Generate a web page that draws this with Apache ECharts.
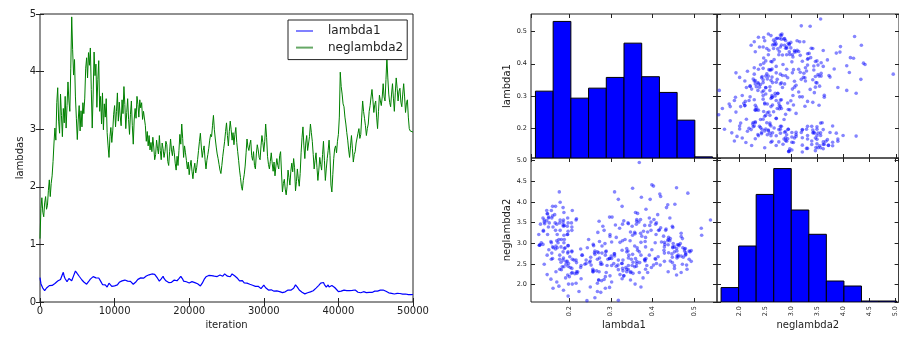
<!DOCTYPE html>
<html>
<head>
<meta charset="utf-8">
<script src="https://cdn.jsdelivr.net/npm/echarts@6/dist/echarts.min.js"></script>
<style>
  html, body { margin: 0; padding: 0; background: #fff; }
  #chart { width: 899px; height: 339px; }
</style>
</head>
<body>
<div id="chart"></div>
<script>
// MCMC trace of the two parameters, one sample every SAMPLE_STEP iterations
const SAMPLE_STEP = 125;

const lambda1 = [
  0.423, 0.318, 0.276, 0.241, 0.212, 0.198, 0.224, 0.243,
  0.262, 0.251, 0.284, 0.268, 0.302, 0.287, 0.313, 0.279,
  0.322, 0.341, 0.328, 0.364, 0.383, 0.357, 0.392, 0.371,
  0.478, 0.516, 0.442, 0.403, 0.372, 0.351, 0.384, 0.409,
  0.431, 0.394, 0.368, 0.402, 0.453, 0.484, 0.538, 0.517,
  0.492, 0.468, 0.447, 0.429, 0.416, 0.382, 0.361, 0.347,
  0.331, 0.318, 0.309, 0.327, 0.352, 0.373, 0.398, 0.412,
  0.428, 0.441, 0.457, 0.436, 0.419, 0.448, 0.433, 0.417,
  0.396, 0.362, 0.334, 0.303, 0.286, 0.311, 0.298, 0.272,
  0.259, 0.287, 0.326, 0.338, 0.302, 0.271, 0.258, 0.269,
  0.281, 0.273, 0.284, 0.297, 0.313, 0.342, 0.358, 0.346,
  0.367, 0.388, 0.359, 0.381, 0.406, 0.378, 0.362, 0.374,
  0.383, 0.357, 0.341, 0.328, 0.309, 0.298, 0.321, 0.352,
  0.371, 0.393, 0.408, 0.396, 0.419, 0.407, 0.426, 0.414,
  0.432, 0.441, 0.452, 0.437, 0.461, 0.472, 0.458, 0.479,
  0.487, 0.476, 0.468, 0.481, 0.492, 0.458, 0.413, 0.382,
  0.363, 0.384, 0.402, 0.428, 0.447, 0.409, 0.381, 0.368,
  0.352, 0.361, 0.338, 0.349, 0.364, 0.342, 0.353, 0.372,
  0.381, 0.397, 0.388, 0.369, 0.383, 0.406, 0.428, 0.446,
  0.437, 0.398, 0.362, 0.343, 0.329, 0.351, 0.338, 0.357,
  0.331, 0.318, 0.342, 0.353, 0.327, 0.348, 0.336, 0.322,
  0.329, 0.317, 0.302, 0.288, 0.279, 0.301, 0.327, 0.359,
  0.392, 0.418, 0.437, 0.452, 0.428, 0.461, 0.476, 0.448,
  0.457, 0.436, 0.468, 0.449, 0.427, 0.458, 0.442, 0.471,
  0.452, 0.468, 0.457, 0.482, 0.447, 0.473, 0.489, 0.462,
  0.471, 0.448, 0.478, 0.459, 0.438, 0.466, 0.487, 0.463,
  0.479, 0.452, 0.421, 0.438, 0.407, 0.386, 0.368, 0.377,
  0.358, 0.372, 0.347, 0.331, 0.342, 0.318, 0.327, 0.309,
  0.297, 0.308, 0.289, 0.276, 0.291, 0.268, 0.257, 0.272,
  0.251, 0.262, 0.273, 0.241, 0.253, 0.232, 0.244, 0.261,
  0.293, 0.268, 0.247, 0.228, 0.218, 0.207, 0.221, 0.198,
  0.212, 0.203, 0.219, 0.188, 0.201, 0.182, 0.193, 0.178,
  0.169, 0.181, 0.158, 0.148, 0.162, 0.171, 0.157, 0.176,
  0.187, 0.199, 0.208, 0.192, 0.217, 0.206, 0.228, 0.214,
  0.238, 0.266, 0.297, 0.278, 0.257, 0.229, 0.208, 0.197,
  0.186, 0.168, 0.157, 0.148, 0.141, 0.159, 0.172, 0.161,
  0.178, 0.189, 0.176, 0.198, 0.207, 0.196, 0.218, 0.229,
  0.241, 0.258, 0.271, 0.289, 0.307, 0.328, 0.347, 0.362,
  0.338, 0.302, 0.271, 0.258, 0.279, 0.297, 0.262, 0.249,
  0.268, 0.287, 0.298, 0.276, 0.252, 0.231, 0.217, 0.198,
  0.181, 0.172, 0.179, 0.188, 0.197, 0.186, 0.207, 0.196,
  0.189, 0.198, 0.207, 0.187, 0.199, 0.178, 0.191, 0.202,
  0.184, 0.193, 0.208, 0.197, 0.186, 0.169, 0.158, 0.152,
  0.161, 0.149, 0.167, 0.179, 0.188, 0.171, 0.163, 0.174,
  0.182, 0.168, 0.187, 0.179, 0.166, 0.186, 0.198, 0.189,
  0.178, 0.197, 0.188, 0.207, 0.218, 0.206, 0.196, 0.187,
  0.208, 0.217, 0.198, 0.186, 0.177, 0.168, 0.159, 0.171,
  0.162, 0.151, 0.158, 0.147, 0.139, 0.152, 0.161, 0.149,
  0.153, 0.161, 0.148, 0.142, 0.151, 0.138, 0.147, 0.141,
  0.139, 0.132, 0.141, 0.128, 0.134, 0.138, 0.129, 0.131,
  0.130
];

const neglambda2 = [
  1.10, 1.62, 1.81, 1.56, 1.48, 1.72, 1.83, 1.61,
  1.68, 1.94, 2.12, 1.83, 2.06, 2.19, 2.44, 2.76,
  3.02, 2.81, 3.46, 3.72, 3.14, 2.93, 3.61, 3.24,
  2.87, 3.36, 3.11, 3.57, 3.02, 3.41, 3.82, 3.49,
  3.31, 4.06, 4.95, 4.38, 3.94, 4.21, 3.56, 3.19,
  2.82, 3.16, 3.41, 2.97, 3.32, 3.04, 3.46, 3.27,
  3.54, 4.06, 4.24, 3.89, 4.33, 4.11, 4.41, 3.69,
  3.02, 3.61, 4.34, 3.93, 4.13, 3.38, 3.86, 4.19,
  3.31, 3.57, 3.09, 3.63, 2.99, 3.44, 3.21, 3.53,
  2.94, 2.71, 2.51, 2.87, 3.03, 2.77, 2.97, 3.26,
  3.41, 3.04, 3.31, 3.63, 3.14, 3.47, 3.23, 3.06,
  3.51, 3.27, 3.74, 3.43, 3.01, 3.29, 3.53, 3.17,
  2.91, 3.26, 3.49, 3.06, 2.74, 3.16, 3.36, 3.19,
  3.57, 3.43, 3.21, 3.51, 3.37, 3.46, 3.17, 3.31,
  3.34, 3.06, 2.79, 2.96, 2.71, 2.89, 2.64, 2.77,
  2.61, 2.86, 2.69, 2.47, 2.56, 2.81, 2.67, 2.57,
  2.89, 2.63, 2.47, 2.76, 2.66, 2.51, 2.61, 2.79,
  2.73, 2.44, 2.37, 2.61, 2.83, 2.64, 2.54, 2.71,
  2.59, 2.41, 2.29, 2.53, 2.37, 2.63, 2.91, 2.74,
  3.09, 2.84, 2.51, 2.71, 2.59, 2.46, 2.31, 2.43,
  2.21, 2.36, 2.46, 2.27, 2.14, 2.31, 2.41, 2.24,
  2.33, 2.47, 2.63, 2.79, 2.93, 2.69, 2.51, 2.63,
  2.71, 2.47, 2.31, 2.46, 2.56, 2.67, 2.81, 2.91,
  2.87, 3.06, 3.24, 2.99, 2.83, 2.69, 2.57, 2.49,
  2.39, 2.29, 2.23, 2.37, 2.53, 2.66, 2.79, 2.96,
  3.11, 2.89, 2.71, 2.96, 3.14, 2.99, 2.81, 2.94,
  2.73, 2.91, 3.03, 2.77, 2.61, 2.46, 2.29, 2.16,
  2.01, 1.94, 2.11, 2.21, 2.36, 2.59, 2.83, 2.69,
  2.63, 2.74, 2.81, 2.54, 2.46, 2.61, 2.37, 2.31,
  2.57, 2.73, 2.64, 2.51, 2.47, 2.71, 2.89, 2.77,
  2.61, 2.79, 3.09, 2.86, 2.53, 2.39, 2.31, 2.44,
  2.59, 2.41, 2.27, 2.43, 2.19, 2.36, 2.49, 2.37,
  2.31, 2.54, 2.61, 2.24, 1.91, 2.06, 2.13, 1.96,
  1.86, 2.01, 2.29, 2.16, 2.03, 2.27, 2.41, 2.26,
  2.49, 2.33, 1.93, 2.09, 2.31, 2.14, 2.01, 2.23,
  2.59, 2.86, 3.04, 2.71, 2.49, 2.76, 2.89, 2.63,
  2.61, 2.87, 3.09, 2.94, 2.79, 2.56, 2.31, 2.46,
  2.59, 2.34, 2.11, 2.29, 2.51, 2.39, 2.29, 2.56,
  2.79, 2.46, 2.11, 2.31, 2.49, 2.63, 2.81, 2.54,
  2.03, 1.91, 2.21, 2.49, 2.66, 2.71, 2.59, 2.79,
  2.91, 3.21, 3.99, 3.74, 3.61, 3.44, 3.39, 3.21,
  3.09, 2.94, 2.81, 2.64, 2.51, 2.71, 2.89, 2.67,
  2.43, 2.56, 2.61, 2.76, 2.79, 2.93, 3.01, 2.84,
  2.91, 3.21, 3.49, 3.31, 3.19, 3.06, 2.89, 3.01,
  3.09, 3.31, 3.41, 3.56, 3.69, 3.51, 3.29, 3.43,
  3.49, 3.21, 3.01, 3.31, 3.59, 3.49, 3.41, 3.56,
  3.79, 3.56, 3.49, 3.86, 4.24, 3.89, 3.61, 3.46,
  3.39, 3.61, 3.79, 3.54, 3.31, 3.63, 3.89, 3.71,
  3.49, 3.66, 3.71, 3.47, 3.39, 3.61, 3.79, 3.56,
  3.29, 3.46, 3.51, 3.21, 3.01, 2.97, 2.95, 2.96,
  2.95
];

// Histogram bins (edges) and counts for the diagonal of the scatter matrix
const lambda1BinEdges = [0.120, 0.1623, 0.2046, 0.2469, 0.2892, 0.3315, 0.3738, 0.4161, 0.4584, 0.5007, 0.543];
const lambda1Counts   = [468, 956, 419, 489, 564, 804, 569, 459, 265, 8];
const neglambda2BinEdges = [1.655, 1.992, 2.328, 2.665, 3.001, 3.338, 3.674, 4.011, 4.347, 4.684, 5.020];
const neglambda2Counts   = [101, 392, 753, 934, 644, 474, 147, 112, 7, 7];

// Axis ranges
const ITER_MAX = 50000;
const LAMBDAS_MAX = 5;
const LAM_RANGE = [0.1094, 0.5536];
const NEG_RANGE = [1.577, 5.06];
const COUNT_AXIS_MAX = 1008;

const FONT = 'DejaVu Sans';
const INK = '#222';

const iterations = lambda1.map((_, i) => i * SAMPLE_STEP);
const lambda1Trace = iterations.map((it, i) => [it, lambda1[i]]);
const neglambda2Trace = iterations.map((it, i) => [it, neglambda2[i]]);
const pairsNegLam = lambda1.map((v, i) => [neglambda2[i], v]);
const pairsLamNeg = lambda1.map((v, i) => [v, neglambda2[i]]);

const histData = (edges, counts) => counts.map((c, i) => [edges[i], edges[i + 1], c]);

const tick = { show: true, inside: true, length: 4, lineStyle: { color: INK, width: 1 } };
const noLine = { show: false };
const noSplit = { show: false };
const oneDecimal = v => v.toFixed(1);
const plainNumber = v => String(v);

function tickOnly(extra) {
  return Object.assign({
    type: 'value', axisLine: noLine, axisTick: tick, splitLine: noSplit,
    axisLabel: { show: false }
  }, extra);
}

function matrixLabels(rotate) {
  return {
    show: true, fontSize: 6.5, color: INK, fontFamily: FONT, margin: 4,
    rotate: rotate, formatter: oneDecimal, showMinLabel: false, showMaxLabel: false
  };
}

const traceLabels = { show: true, fontSize: 10, color: INK, fontFamily: FONT, margin: 4, formatter: plainNumber };
const nameStyle = { fontSize: 10, color: INK, fontFamily: FONT };

const grids = [
  { left: 40, top: 14, width: 373, height: 288 },
  { left: 531, top: 14, width: 186, height: 144 },
  { left: 717, top: 14, width: 186, height: 144 },
  { left: 531, top: 158, width: 186, height: 144 },
  { left: 717, top: 158, width: 186, height: 144 }
].map(g => Object.assign({ show: true, borderColor: INK, borderWidth: 1, backgroundColor: 'transparent', containLabel: false }, g));

const xAxes = [
  tickOnly({ gridIndex: 0, position: 'bottom', min: 0, max: ITER_MAX, interval: 10000,
    axisLabel: traceLabels,
    name: 'iteration', nameLocation: 'middle', nameGap: 16, nameTextStyle: nameStyle }),
  tickOnly({ gridIndex: 0, position: 'top', min: 0, max: ITER_MAX, interval: 10000 }),
  tickOnly({ gridIndex: 1, position: 'bottom', min: LAM_RANGE[0], max: LAM_RANGE[1] }),
  tickOnly({ gridIndex: 1, position: 'top', min: LAM_RANGE[0], max: LAM_RANGE[1] }),
  tickOnly({ gridIndex: 2, position: 'bottom', min: NEG_RANGE[0], max: NEG_RANGE[1] }),
  tickOnly({ gridIndex: 2, position: 'top', min: NEG_RANGE[0], max: NEG_RANGE[1] }),
  tickOnly({ gridIndex: 3, position: 'bottom', min: LAM_RANGE[0], max: LAM_RANGE[1],
    axisLabel: matrixLabels(90),
    name: 'lambda1', nameLocation: 'middle', nameGap: 17, nameTextStyle: nameStyle }),
  tickOnly({ gridIndex: 3, position: 'top', min: LAM_RANGE[0], max: LAM_RANGE[1] }),
  tickOnly({ gridIndex: 4, position: 'bottom', min: NEG_RANGE[0], max: NEG_RANGE[1],
    axisLabel: matrixLabels(90),
    name: 'neglambda2', nameLocation: 'middle', nameGap: 17, nameTextStyle: nameStyle }),
  tickOnly({ gridIndex: 4, position: 'top', min: NEG_RANGE[0], max: NEG_RANGE[1] })
];

const yAxes = [
  tickOnly({ gridIndex: 0, position: 'left', min: 0, max: LAMBDAS_MAX, interval: 1,
    axisLabel: traceLabels,
    name: 'lambdas', nameLocation: 'middle', nameGap: 15, nameTextStyle: nameStyle }),
  tickOnly({ gridIndex: 0, position: 'right', min: 0, max: LAMBDAS_MAX, interval: 1 }),
  { gridIndex: 1, type: 'value', position: 'left', show: false, min: 0, max: COUNT_AXIS_MAX },
  tickOnly({ gridIndex: 1, position: 'left', min: LAM_RANGE[0], max: LAM_RANGE[1],
    axisLabel: matrixLabels(0),
    name: 'lambda1', nameLocation: 'middle', nameGap: 18, nameTextStyle: nameStyle }),
  tickOnly({ gridIndex: 1, position: 'right', min: LAM_RANGE[0], max: LAM_RANGE[1] }),
  tickOnly({ gridIndex: 2, position: 'left', min: LAM_RANGE[0], max: LAM_RANGE[1] }),
  tickOnly({ gridIndex: 2, position: 'right', min: LAM_RANGE[0], max: LAM_RANGE[1] }),
  tickOnly({ gridIndex: 3, position: 'left', min: NEG_RANGE[0], max: NEG_RANGE[1],
    axisLabel: matrixLabels(0),
    name: 'neglambda2', nameLocation: 'middle', nameGap: 18, nameTextStyle: nameStyle }),
  tickOnly({ gridIndex: 3, position: 'right', min: NEG_RANGE[0], max: NEG_RANGE[1] }),
  { gridIndex: 4, type: 'value', position: 'left', show: false, min: 0, max: COUNT_AXIS_MAX },
  tickOnly({ gridIndex: 4, position: 'left', min: NEG_RANGE[0], max: NEG_RANGE[1] }),
  tickOnly({ gridIndex: 4, position: 'right', min: NEG_RANGE[0], max: NEG_RANGE[1] })
];

function histRender(params, api) {
  const p0 = api.coord([api.value(0), 0]);
  const p1 = api.coord([api.value(1), api.value(2)]);
  return {
    type: 'rect',
    shape: { x: p0[0], y: p1[1], width: p1[0] - p0[0], height: p0[1] - p1[1] },
    style: { fill: '#0000ff', stroke: '#000', lineWidth: 1 }
  };
}

const scatterStyle = { color: 'rgba(0,0,255,0.6)' };

const option = {
  animation: false,
  backgroundColor: '#fff',
  textStyle: { fontFamily: FONT },
  grid: grids,
  xAxis: xAxes,
  yAxis: yAxes,
  legend: {
    orient: 'vertical', left: 288, top: 20,
    padding: [5, 4, 6, 8], itemGap: 4.6, itemWidth: 17, itemHeight: 2, icon: 'rect',
    borderColor: INK, borderWidth: 1, backgroundColor: '#fff',
    textStyle: { fontSize: 12, color: INK, fontFamily: FONT, padding: [0, 0, 0, 10] },
    selectedMode: false,
    data: [
      { name: 'lambda1', itemStyle: { color: '#8080ff' } },
      { name: 'neglambda2', itemStyle: { color: '#66a866' } }
    ]
  },
  series: [
    { name: 'lambda1', type: 'line', xAxisIndex: 0, yAxisIndex: 0, data: lambda1Trace,
      showSymbol: false, symbol: 'none', lineStyle: { color: '#0000ff', width: 1.2 }, itemStyle: { color: '#0000ff' } },
    { name: 'neglambda2', type: 'line', xAxisIndex: 0, yAxisIndex: 0, data: neglambda2Trace,
      showSymbol: false, symbol: 'none', lineStyle: { color: '#008000', width: 1 }, itemStyle: { color: '#008000' } },
    { name: 'lambda1 histogram', type: 'custom', xAxisIndex: 2, yAxisIndex: 2, clip: true,
      data: histData(lambda1BinEdges, lambda1Counts), encode: { x: [0, 1], y: 2 }, renderItem: histRender },
    { name: 'neglambda2 vs lambda1', type: 'scatter', xAxisIndex: 4, yAxisIndex: 5, clip: true,
      data: pairsNegLam, symbolSize: 3.6, itemStyle: scatterStyle },
    { name: 'lambda1 vs neglambda2', type: 'scatter', xAxisIndex: 6, yAxisIndex: 7, clip: true,
      data: pairsLamNeg, symbolSize: 3.6, itemStyle: scatterStyle },
    { name: 'neglambda2 histogram', type: 'custom', xAxisIndex: 8, yAxisIndex: 9, clip: true,
      data: histData(neglambda2BinEdges, neglambda2Counts), encode: { x: [0, 1], y: 2 }, renderItem: histRender }
  ]
};

const chart = echarts.init(document.getElementById('chart'), null, { renderer: 'canvas' });
chart.setOption(option);
</script>
</body>
</html>
